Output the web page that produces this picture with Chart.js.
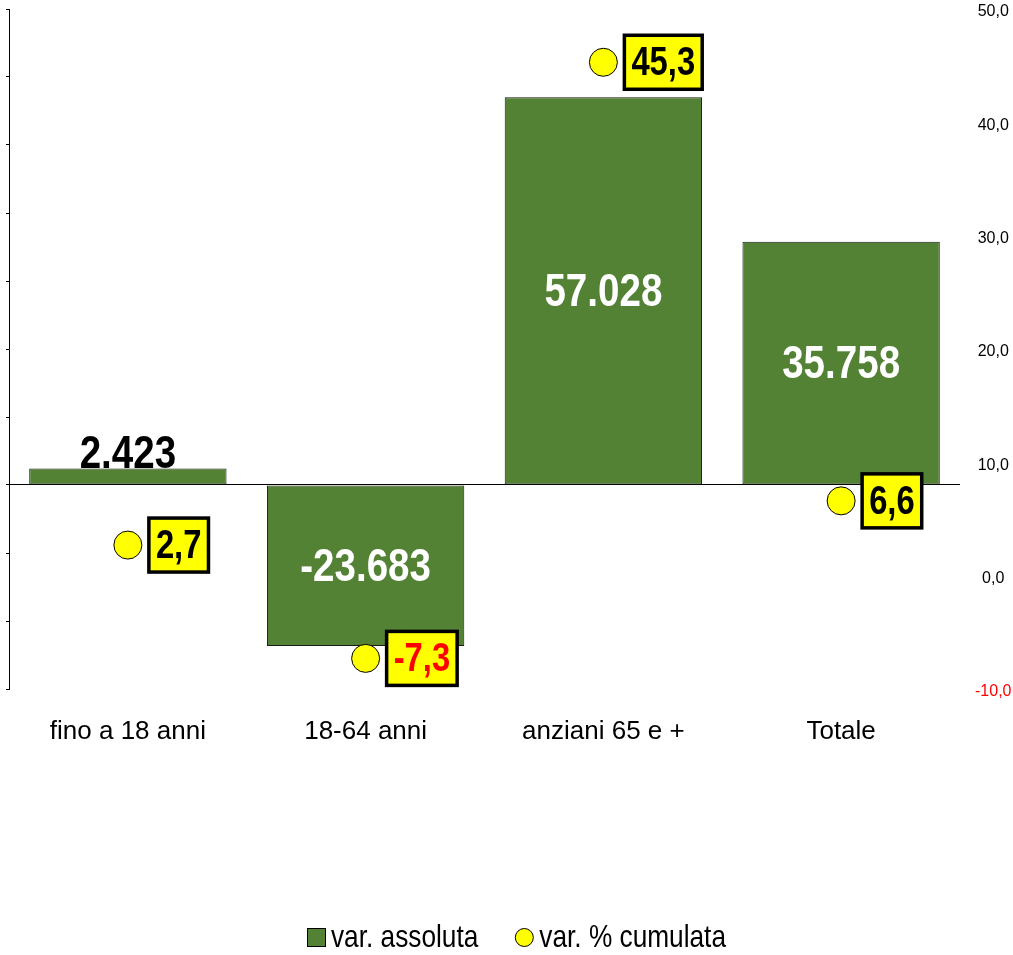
<!DOCTYPE html>
<html>
<head>
<meta charset="utf-8">
<script src="https://cdn.jsdelivr.net/npm/chart.js@4.4.1/dist/chart.umd.min.js"></script>
<style>
  html, body { margin: 0; padding: 0; background: #fff; }
</style>
</head>
<body>
<canvas id="chart-var" width="1013" height="955"></canvas>
<script>
var categories = ["fino a 18 anni", "18-64 anni", "anziani 65 e +", "Totale"];
var varAssoluta = [2423, -23683, 57028, 35758];
var varCumulata = [2.7, -7.3, 45.3, 6.6];
var legendLabels = ["var. assoluta", "var. % cumulata"];

var SANS = "'Liberation Sans', Arial, sans-serif";
var GREEN = "#548235";
var YELLOW = "#FFFF00";
var NARROW_X = 0.82; // no Arial Narrow here, squeeze Arial instead

function fmtInt(v) {
  var s = String(Math.abs(v)).replace(/\B(?=(\d{3})+(?!\d))/g, ".");
  return (v < 0 ? "-" : "") + s;
}
function fmtDec(v) {
  return v.toFixed(1).replace(".", ",");
}
function narrowText(ctx, txt, x, y) {
  ctx.save();
  ctx.translate(x, y);
  ctx.scale(NARROW_X, 1);
  ctx.fillText(txt, 0, 0);
  ctx.restore();
}

// line controller that does not pad the chart area for big markers
class PointsController extends Chart.LineController {
  getMaxOverflow() {
    return 0;
  }
}
PointsController.id = "points";
PointsController.defaults = Chart.LineController.defaults;
Chart.register(PointsController);

// labels on bars, yellow boxes next to points, and the legend
const labelsPlugin = {
  id: "labelsPlugin",
  afterDatasetsDraw: function (chart) {
    var ctx = chart.ctx;
    ctx.save();

    var bars = chart.getDatasetMeta(0).data;
    ctx.font = "bold 47px " + SANS;
    ctx.textAlign = "center";
    bars.forEach(function (bar, i) {
      var txt = fmtInt(varAssoluta[i]);
      if (Math.abs(bar.base - bar.y) < 60) {
        ctx.fillStyle = "#000";
        ctx.textBaseline = "alphabetic";
        narrowText(ctx, txt, bar.x, Math.min(bar.y, bar.base) - 1);
      } else {
        ctx.fillStyle = "#fff";
        ctx.textBaseline = "middle";
        narrowText(ctx, txt, bar.x, (bar.y + bar.base) / 2 + 2);
      }
    });

    var pts = chart.getDatasetMeta(1).data;
    ctx.font = "bold 40px " + SANS;
    pts.forEach(function (pt, i) {
      var v = varCumulata[i];
      var txt = fmtDec(v);
      var w = ctx.measureText(txt).width * NARROW_X + 14;
      var h = 54;
      var x0 = pt.x + 21;
      var y0 = pt.y - h / 2;
      ctx.fillStyle = YELLOW;
      ctx.fillRect(x0, y0, w, h);
      ctx.lineWidth = 3.5;
      ctx.strokeStyle = "#000";
      ctx.strokeRect(x0, y0, w, h);
      ctx.fillStyle = v < 0 ? "#FF0000" : "#000";
      ctx.textAlign = "center";
      ctx.textBaseline = "middle";
      narrowText(ctx, txt, x0 + w / 2, pt.y + 2);
    });

    // legend
    ctx.font = "32px " + SANS;
    ctx.textAlign = "left";
    ctx.textBaseline = "alphabetic";
    var base = 947;
    var w1 = ctx.measureText(legendLabels[0]).width * NARROW_X;
    var w2 = ctx.measureText(legendLabels[1]).width * NARROW_X;
    var total = 19 + 5 + w1 + 37 + 19 + 5 + w2;
    var x = chart.width / 2 + 10 - total / 2;
    ctx.fillStyle = GREEN;
    ctx.fillRect(x, base - 19, 19, 19);
    ctx.lineWidth = 1;
    ctx.strokeStyle = "#000";
    ctx.strokeRect(x + 0.5, base - 18.5, 18, 18);
    ctx.fillStyle = "#000";
    narrowText(ctx, legendLabels[0], x + 24, base);
    x += 24 + w1 + 37;
    ctx.beginPath();
    ctx.arc(x + 9, base - 9.5, 9, 0, Math.PI * 2);
    ctx.fillStyle = YELLOW;
    ctx.fill();
    ctx.stroke();
    ctx.fillStyle = "#000";
    narrowText(ctx, legendLabels[1], x + 24, base);

    ctx.restore();
  },
};

var chartVar = new Chart(document.getElementById("chart-var").getContext("2d"), {
  type: "bar",
  data: {
    labels: categories,
    datasets: [
      {
        label: legendLabels[0],
        data: varAssoluta,
        backgroundColor: GREEN,
        borderColor: "#1a1a1a",
        borderWidth: 1,
        borderSkipped: false,
        categoryPercentage: 1,
        barPercentage: 0.83,
        yAxisID: "y",
        order: 2,
      },
      {
        type: "points",
        label: legendLabels[1],
        data: varCumulata,
        showLine: false,
        pointRadius: 14,
        pointHoverRadius: 14,
        pointBackgroundColor: YELLOW,
        pointBorderColor: "#000",
        pointBorderWidth: 1,
        yAxisID: "y1",
        order: 1,
      },
    ],
  },
  options: {
    responsive: false,
    animation: false,
    devicePixelRatio: 1,
    layout: { padding: { top: 9, left: 0, right: 0, bottom: 0 } },
    plugins: {
      legend: { display: false },
      tooltip: { enabled: false },
    },
    scales: {
      x: {
        afterFit: function (scale) {
          scale.height = 266;
          scale.paddingLeft = 0;
          scale.paddingRight = 0;
        },
        grid: { display: false },
        border: { display: false },
        ticks: {
          color: "#000",
          padding: 19,
          maxRotation: 0,
          font: { family: SANS, size: 26 },
        },
      },
      y: {
        position: "left",
        min: -30000,
        max: 70000,
        afterFit: function (scale) {
          scale.width = 9;
          scale.paddingTop = 0;
          scale.paddingBottom = 0;
        },
        grid: {
          drawOnChartArea: true,
          color: function (c) {
            return c.tick && c.tick.value === 0 ? "#000" : "rgba(0,0,0,0)";
          },
          tickColor: "#000",
          tickLength: 3,
        },
        border: { display: true, color: "#000", width: 1 },
        ticks: { display: false, stepSize: 10000 },
      },
      y1: {
        position: "right",
        min: -10,
        max: 50,
        afterFit: function (scale) {
          scale.width = 53;
          scale.paddingTop = 0;
          scale.paddingBottom = 0;
        },
        grid: { display: false },
        border: { display: false },
        ticks: {
          stepSize: 10,
          padding: 7,
          labelOffset: 3,
          crossAlign: "center",
          font: { family: SANS, size: 16 },
          color: function (c) {
            return c.tick && c.tick.value < 0 ? "#FF0000" : "#000";
          },
          callback: function (v) {
            return fmtDec(v);
          },
        },
      },
    },
  },
  plugins: [labelsPlugin],
});
</script>
</body>
</html>
